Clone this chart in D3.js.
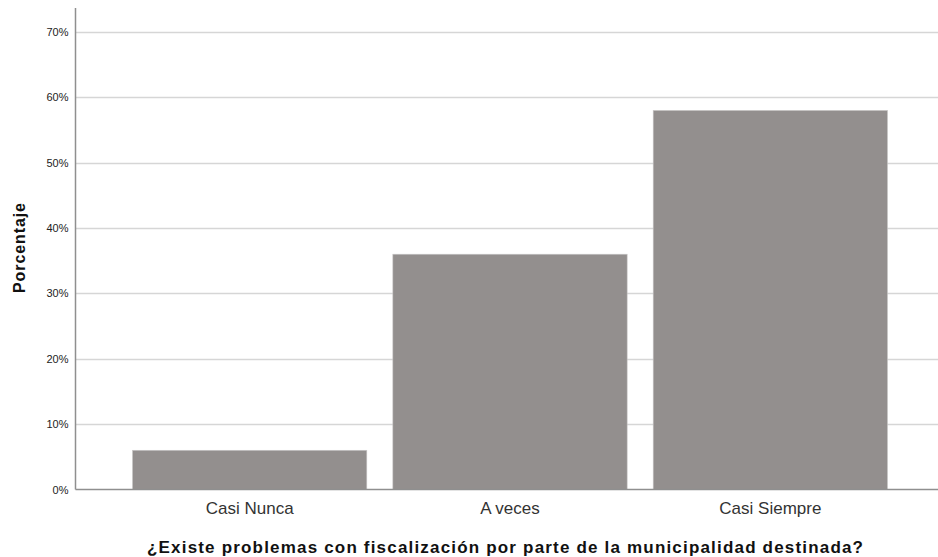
<!DOCTYPE html>
<html><head><meta charset="utf-8">
<script src="https://cdn.jsdelivr.net/npm/d3@7"></script>
<style>body{margin:0;background:#fff}svg{display:block}text{font-family:"Liberation Sans",Arial,sans-serif}</style>
</head><body><svg id="c" width="938" height="557"></svg>
<script>
const categories = ["Casi Nunca", "A veces", "Casi Siempre"];
const values = [0.06, 0.36, 0.58];
const yTicks = [0, 0.1, 0.2, 0.3, 0.4, 0.5, 0.6, 0.7];
const yLabel = "Porcentaje";
const xLabel = "¿Existe problemas con fiscalización por parte de la municipalidad destinada?";

const svg = d3.select("#c");
const axisX = 75.5, rightX = 938, topY = 8;
const x = d3.scaleBand().domain(categories).range([132.5, 887.5]).paddingInner(0.1).paddingOuter(0);
const y = d3.scaleLinear().domain([0, 0.7]).range([489.5, 32]);

// gridlines
svg.append("g").selectAll("line").data(yTicks.filter(d => d > 0)).join("line")
  .attr("x1", axisX).attr("x2", rightX)
  .attr("y1", d => Math.round(y(d)) + 0.5).attr("y2", d => Math.round(y(d)) + 0.5)
  .attr("stroke", "#d6d6d6").attr("stroke-width", 1.5);

// bars
svg.append("g").selectAll("rect").data(values).join("rect")
  .attr("x", (d, i) => x(categories[i]))
  .attr("width", x.bandwidth())
  .attr("y", d => y(d))
  .attr("height", d => y(0) - y(d))
  .attr("fill", "#938f8e").attr("stroke", "#c8c6c6").attr("stroke-width", 0.6);

// y axis
const yAxis = d3.axisLeft(y).tickValues(yTicks).tickFormat(d3.format(".0%")).tickSize(0).tickPadding(7);
const gy = svg.append("g").attr("transform", `translate(${axisX},0)`).call(yAxis);
gy.select(".domain").remove();
gy.selectAll("text").attr("font-size", 11).attr("fill", "#222").attr("font-family", "Liberation Sans, Arial, sans-serif");
svg.append("line").attr("x1", axisX).attr("x2", axisX).attr("y1", topY).attr("y2", y(0))
  .attr("stroke", "#8f8f8f").attr("stroke-width", 1.5);

// x axis
const xAxis = d3.axisBottom(x).tickSize(0).tickPadding(12);
const gx = svg.append("g").attr("transform", `translate(0,${y(0)})`).call(xAxis);
gx.select(".domain").remove();
gx.selectAll("text").attr("font-size", 17).attr("fill", "#333").attr("font-family", "Liberation Sans, Arial, sans-serif");
svg.append("line").attr("x1", axisX).attr("x2", rightX).attr("y1", y(0)).attr("y2", y(0))
  .attr("stroke", "#8f8f8f").attr("stroke-width", 1.5);

// labels
svg.append("text").attr("transform", "translate(25,248) rotate(-90)")
  .attr("text-anchor", "middle").attr("font-size", 16).attr("font-weight", "bold").attr("fill", "#111")
  .attr("textLength", 90).attr("lengthAdjust", "spacing").text(yLabel);
svg.append("text").attr("x", 505).attr("y", 553)
  .attr("text-anchor", "middle").attr("font-size", 17).attr("font-weight", "bold").attr("fill", "#111")
  .attr("textLength", 716).attr("lengthAdjust", "spacing").text(xLabel);
</script></body></html>
